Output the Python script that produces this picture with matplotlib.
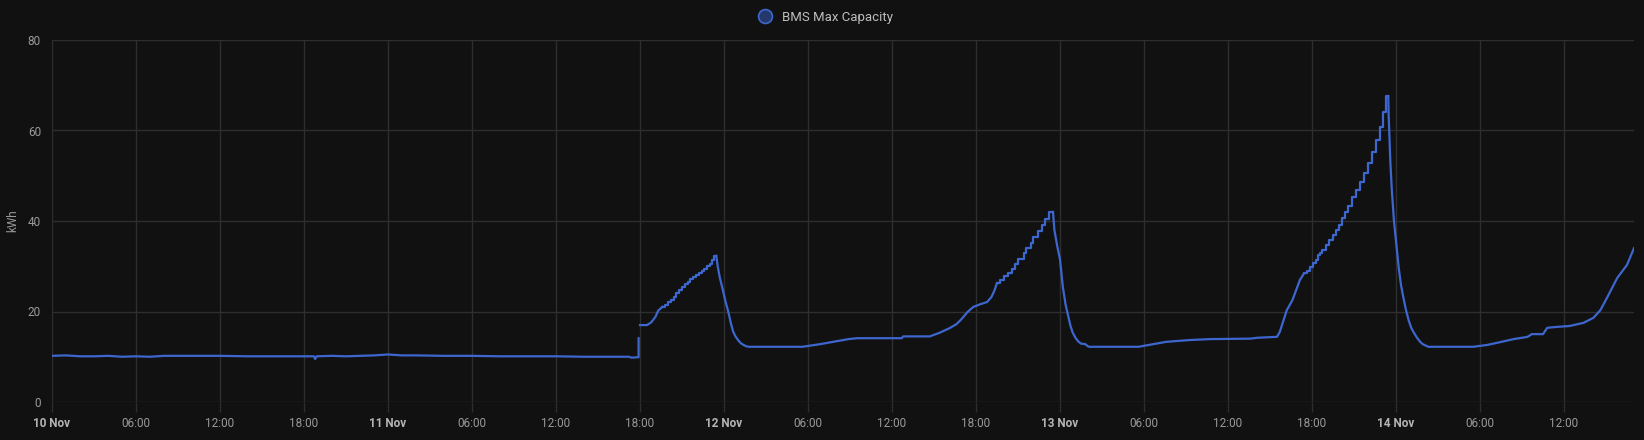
import numpy as np
import pandas as pd
import matplotlib
matplotlib.use('Agg')
import matplotlib.pyplot as plt
from matplotlib.lines import Line2D

start = pd.Timestamp('2023-11-10 00:00')

# hours since 10 Nov 00:00, kWh -- smooth stretches (drawn as plain lines)
flat_h = [0, 1, 2, 3, 4, 5, 6, 7, 8, 9, 10, 12, 14, 16, 18, 18.7, 18.8, 18.9, 20, 21, 22,
          23, 23.5, 24, 25, 26, 28, 30, 32, 34, 36, 38, 40, 41.2, 41.4, 41.9, 41.9]
flat_v = [10.2, 10.3, 10.1, 10.1, 10.2, 10.0, 10.1, 10.0, 10.2, 10.2, 10.2, 10.2, 10.1, 10.1, 10.1, 10.1, 9.5, 10.1, 10.2, 10.1, 10.2,
          10.3, 10.4, 10.5, 10.3, 10.3, 10.2, 10.2, 10.1, 10.1, 10.1, 10.0, 10.0, 10.0, 9.8, 9.9, 14.1]

rise1_h = [42.0, 42.5, 42.8, 43.1, 43.3, 43.6]
rise1_v = [17.0, 17.0, 17.6, 18.8, 20.2, 21.0]

steps1_h = [43.6, 43.8, 44.0, 44.2, 44.4, 44.6, 44.8, 45.0, 45.2, 45.4, 45.6, 45.8, 46.0,
            46.2, 46.4, 46.6, 46.8, 47.0, 47.15, 47.3, 47.45]
steps1_v = [21.0, 21.5, 22.0, 22.6, 23.3, 24.0, 24.7, 25.4, 26.0, 26.6, 27.1, 27.6, 28.0,
            28.5, 29.0, 29.5, 30.0, 30.6, 31.3, 32.3, 32.3]

decay1_h = [47.45, 47.55, 47.7, 47.9, 48.1, 48.3, 48.5, 48.65, 48.8, 49.0, 49.2, 49.4, 49.6,
            49.8, 53.6, 54.9, 55.8, 56.9, 57.5, 60.7, 60.8, 62.7, 63.4, 64.1, 64.6, 64.9,
            65.4, 65.8, 66.3, 66.8, 67.1, 67.3, 67.5]
decay1_v = [32.3, 30.0, 27.5, 25.0, 22.3, 20.0, 17.3, 15.6, 14.6, 13.7, 13.0, 12.6, 12.3,
            12.2, 12.2, 12.8, 13.3, 13.9, 14.1, 14.1, 14.5, 14.5, 15.3, 16.3, 17.2, 18.1,
            19.9, 21.0, 21.6, 22.1, 23.2, 24.5, 26.3]

steps2_h = [67.5, 67.7, 68.0, 68.3, 68.6, 68.8, 69.0, 69.4, 69.6, 69.9, 70.1, 70.4, 70.7,
            70.9, 71.2, 71.5]
steps2_v = [26.3, 27.0, 27.8, 28.6, 29.4, 30.4, 31.6, 32.9, 34.0, 35.2, 36.4, 37.7, 39.1,
            40.4, 42.0, 42.0]

decay2_h = [71.5, 71.6, 71.8, 72.0, 72.1, 72.2, 72.4, 72.6, 72.75, 72.9, 73.1, 73.3, 73.5,
            73.8, 74.0, 74.1, 77.6, 79.6, 81.3, 82.7, 85.6, 86.1, 87.5, 87.7, 88.2, 88.6,
            89.14, 89.43]
decay2_v = [42.0, 38.0, 34.5, 31.5, 28.5, 25.5, 21.5, 18.8, 16.8, 15.4, 14.2, 13.4, 12.9,
            12.8, 12.3, 12.2, 12.2, 13.3, 13.7, 13.9, 14.0, 14.2, 14.4, 15.5, 20.3, 22.5,
            27.0, 28.4]

steps3_h = [89.43, 89.62, 89.86, 90.10, 90.29, 90.45, 90.57, 90.74, 90.98, 91.21, 91.48,
            91.71, 91.95, 92.16, 92.36, 92.57, 92.86, 93.12, 93.43, 93.71, 94.02, 94.31,
            94.57, 94.86, 95.09, 95.29, 95.45]
steps3_v = [28.4, 29.0, 29.8, 30.8, 31.4, 32.5, 32.9, 33.7, 34.7, 35.8, 36.9,
            38.0, 39.1, 40.6, 41.9, 43.3, 45.2, 46.9, 48.7, 50.7, 52.9, 55.3,
            57.9, 60.8, 64.0, 67.6, 67.6]

decay3_h = [95.45, 95.47, 95.55, 95.6, 95.7, 95.85, 96.05, 96.2, 96.35, 96.5, 96.7, 96.9,
            97.1, 97.3, 97.5, 97.7, 97.9, 98.1, 98.3, 101.5, 102.5, 103.4, 104.4, 105.4,
            105.7, 106.5, 106.8, 107.5, 108.4, 109.4, 110.1, 110.6, 111.1, 111.8, 112.5, 113.0]
decay3_v = [67.6, 63.9, 57.0, 52.8, 46.9, 40.2, 34.0, 29.5, 26.0, 23.5, 20.5, 18.1,
            16.3, 15.2, 14.2, 13.4, 12.8, 12.5, 12.2, 12.2, 12.6, 13.2, 13.9, 14.4,
            15.0, 15.0, 16.4, 16.6, 16.8, 17.5, 18.6, 20.3, 23.2, 27.4, 30.3, 34.0]

y_ticks = [0, 20, 40, 60, 80]
tick_hours = list(range(0, 114, 6))
series_name = 'BMS Max Capacity'
y_label = 'kWh'

BG = '#111111'
LINE = '#3d67cf'
GRID = '#2e2e2e'
TXT = '#9a9a9a'

plt.rcParams['font.family'] = ['Roboto', 'DejaVu Sans']


def to_time(h):
    return start + pd.to_timedelta(np.asarray(h, dtype=float), unit='h')


fig = plt.figure(figsize=(16.44, 4.4), dpi=100, facecolor=BG)
ax = fig.add_axes([52 / 1644, 38 / 440, (1634 - 52) / 1644, 362 / 440])
ax.set_facecolor(BG)

kw = dict(color=LINE, lw=1.6, solid_joinstyle='round')
for hh, vv in [(flat_h, flat_v), (rise1_h, rise1_v), (decay1_h, decay1_v),
               (decay2_h, decay2_v), (decay3_h, decay3_v)]:
    ax.plot(to_time(hh), vv, **kw)
for hh, vv in [(steps1_h, steps1_v), (steps2_h, steps2_v), (steps3_h, steps3_v)]:
    ax.step(to_time(hh), vv, where='post', **kw)

ax.set_xlim(to_time([0])[0], to_time([113])[0])
ax.set_ylim(0, 80)
ax.set_yticks(y_ticks)
ax.set_yticklabels([str(v) for v in y_ticks])

ticks = to_time(tick_hours)
labels = [t.strftime('%-d %b') if t.hour == 0 else t.strftime('%H:%M') for t in ticks]
ax.set_xticks(ticks)
ax.set_xticklabels(labels)

ax.grid(True, color=GRID, lw=1)
for s in ax.spines.values():
    s.set_visible(False)
ax.tick_params(axis='x', colors=GRID, labelcolor=TXT, length=7, width=1, pad=4, labelsize=8.5)
ax.tick_params(axis='y', length=0, labelcolor=TXT, pad=8, labelsize=8.5)
for lab, t in zip(ax.get_xticklabels(), ticks):
    if t.hour == 0:
        lab.set_fontweight('bold')
        lab.set_color('#b5b5b5')
ax.set_axisbelow(True)

ax.set_ylabel(y_label, color=TXT, fontsize=8.5, labelpad=6)

handle = Line2D([], [], marker='o', ls='none', ms=10, mfc='#24386b', mec=LINE, mew=1.2)
leg = fig.legend([handle], [series_name], loc='center', bbox_to_anchor=(0.5, 1 - 17 / 440),
                 frameon=False, handletextpad=0.3, fontsize=9.5, labelcolor='#bdbdbd')

fig.savefig('out.png', dpi=100, facecolor=BG)
